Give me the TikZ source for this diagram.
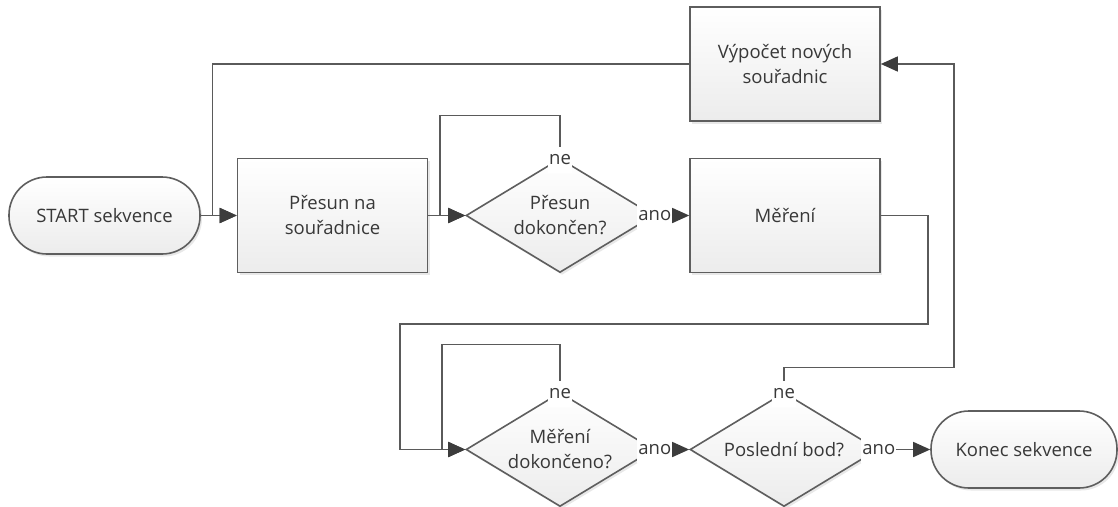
\documentclass[tikz,border=0pt]{standalone}
\usepackage{fontspec}
\setmainfont{Open Sans}
\usetikzlibrary{arrows.meta,shapes.geometric,shadows}
\definecolor{edgec}{HTML}{5E5E5E}
\definecolor{linec}{HTML}{5A5A5A}
\definecolor{tipc}{HTML}{3C3C3C}
\definecolor{txtc}{HTML}{383838}
\definecolor{fillb}{HTML}{ECECEC}
\begin{document}
\begin{tikzpicture}[x=1pt,y=-1pt,
  base/.style={draw=edgec, line width=1.6pt, top color=white, bottom color=fillb,
    text=txtc, font=\fontsize{18.5}{25}\selectfont, align=center, inner sep=0pt,
    drop shadow={shadow xshift=2pt, shadow yshift=-2.5pt, opacity=0.18}},
  term/.style={base, rounded corners=38pt, minimum width=191pt, minimum height=77pt},
  proc/.style={base, minimum width=190pt, minimum height=114pt},
  dec/.style={base, diamond, minimum width=188pt, minimum height=114pt, shape aspect=1.65},
  conn/.style={draw=linec, line width=1.5pt, -{Triangle[length=17pt,width=15pt,color=tipc]}},
  lbl/.style={fill=white, text=txtc, font=\fontsize{18.5}{25}\selectfont,
    inner xsep=1pt, inner ysep=0pt, minimum height=26pt}
]
\fill[white] (0,0) rectangle (1118,506);
\path[use as bounding box] (0,0) rectangle (1118,506);

\node[term] (start) at (104.5,215.5) {START sekvence};
\node[proc] (presun) at (332.5,215.5) {Přesun na\\souřadnice};
\node[dec] (d1) at (560,215.5) {Přesun\\dokončen?};
\node[proc] (mereni) at (785,215.5) {Měření};
\node[proc] (vypocet) at (785,64) {Výpočet nových\\souřadnic};
\node[dec] (d2) at (560,449.5) {Měření\\dokončeno?};
\node[dec] (d3) at (784,449.5) {Poslední bod?};
\node[term, minimum width=186pt] (konec) at (1024,449.5) {Konec sekvence};

\coordinate (c1) at (928,324);
\coordinate (c2) at (400,324);

\draw[conn] (start.east) -- (presun.west);
\draw[conn] (vypocet.west) -| ([xshift=-24pt]presun.west) -- (presun.west);
\draw[conn] (presun.east) -- (d1.west);
\draw[conn] (d1.north) -- ++(0,-42) -| ([xshift=-25pt]d1.west) -- (d1.west);
\draw[conn] (d1.east) -- (mereni.west);
\draw[conn] (mereni.east) -| (c1) -- (c2) |- (d2.west);
\draw[conn] (d2.north) -- ++(0,-47) -| ([xshift=-23pt]d2.west) -- (d2.west);
\draw[conn] (d2.east) -- (d3.west);
\draw[conn] (d3.east) -- (konec.west);
\draw[conn] (d3.north) -- ++(0,-24) -| ([xshift=73pt]vypocet.east) -- (vypocet.east);

\node[lbl] (ne1) at ([yshift=-2pt]d1.north) {ne};
\node[lbl] (ano1) at (d1.east) {ano};
\node[lbl] (ne2) at ([yshift=-2pt]d2.north) {ne};
\node[lbl] (ano2) at (d2.east) {ano};
\node[lbl] (ne3) at ([yshift=-2pt]d3.north) {ne};
\node[lbl] (ano3) at (d3.east) {ano};
\end{tikzpicture}
\end{document}
